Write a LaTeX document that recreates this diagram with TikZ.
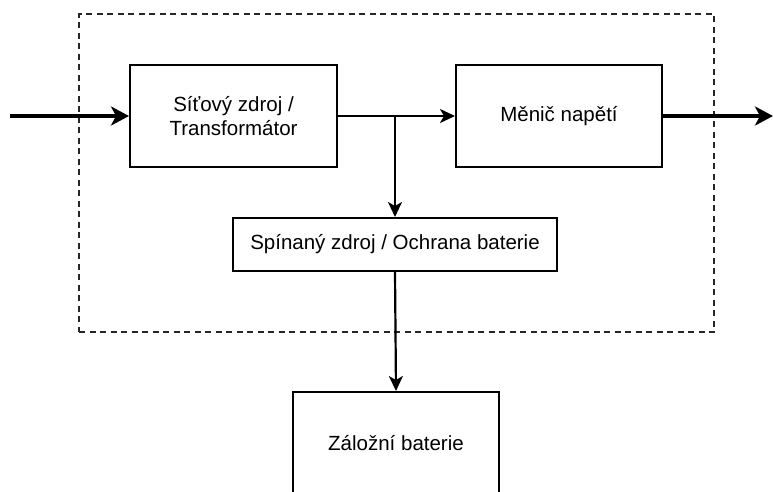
\documentclass[tikz,border=0pt]{standalone}
\usepackage{fontspec}
\setmainfont{Liberation Sans}
\usetikzlibrary{arrows.meta}
\begin{document}
\begin{tikzpicture}[x=1pt,y=-1pt,
  blockbox/.style={draw=black,line width=2pt,align=center,inner sep=0pt,font=\fontsize{20.5}{23.5}\selectfont},
  thinarrow/.style={line width=2.2pt,-{Stealth[length=15pt,width=14pt,inset=4pt]}},
  thickarrow/.style={line width=4pt,-{Stealth[length=18pt,width=19pt,inset=5pt]}},
  groupbox/.style={draw=black!85,line width=1.5pt,dash pattern=on 6pt off 4.5pt}]
\useasboundingbox (0,0) rectangle (773,491);
\clip (0,0) rectangle (773,491);
\node[groupbox,minimum width=635pt,minimum height=318pt,inner sep=0pt] (grp) at (396.5,173) {};
\node[blockbox,minimum width=207pt,minimum height=102pt] (src) at (233.5,116) {Síťový zdroj /\\Transformátor};
\node[blockbox,minimum width=206pt,minimum height=102pt] (conv) at (559,116) {Měnič napětí};
\node[blockbox,minimum width=324pt,minimum height=53pt] (prot) at (395,244.5) {Spínaný zdroj / Ochrana baterie};
\node[blockbox,minimum width=206pt,minimum height=102pt] (bat) at (396,443) {Záložní baterie};
\coordinate (in) at (10,116);
\coordinate (out) at (773,116);
\coordinate (jn) at (prot.north |- src.east);
\draw[thickarrow] (in) -- (src.west);
\draw[thickarrow] (conv.east) -- (out);
\draw[thinarrow] (src.east) -- (conv.west);
\draw[thinarrow] (jn) -- (prot.north);
\draw[thinarrow] (prot.south) -- (bat.north);
\end{tikzpicture}
\end{document}
